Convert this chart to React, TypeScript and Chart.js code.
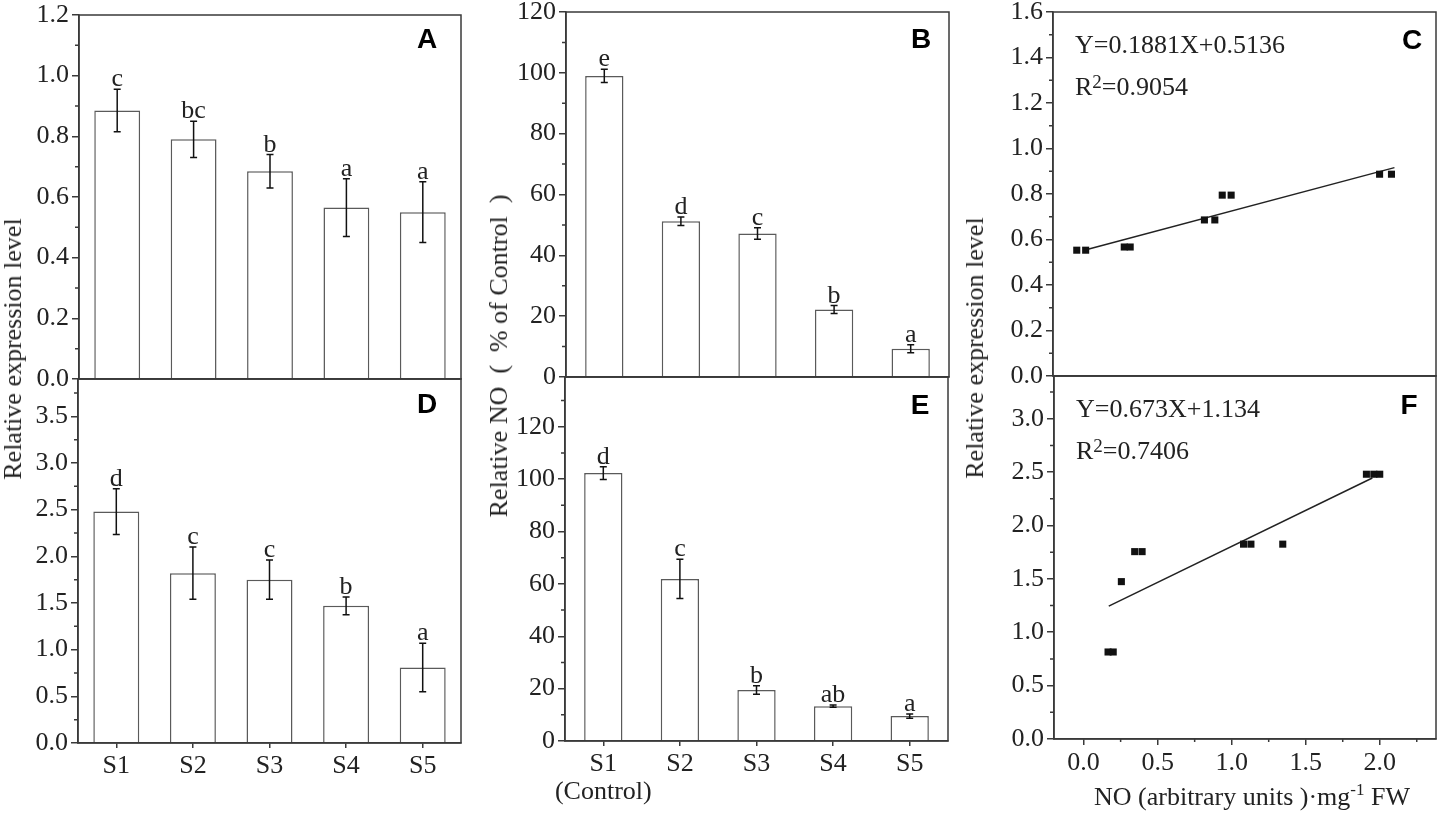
import React, { useEffect, useRef } from 'react';
import { Chart, registerables } from 'chart.js';

Chart.register(...registerables);

// ---- values ----
const categories = ['S1', 'S2', 'S3', 'S4', 'S5'];
const controlNote = '(Control)';

// A: relative expression level (top left)
const exprA = [0.885, 0.79, 0.685, 0.565, 0.55];
const exprAErr = [0.07, 0.06, 0.055, 0.095, 0.1];
const exprALetters = ['c', 'bc', 'b', 'a', 'a'];
const exprATicks = [0, 0.2, 0.4, 0.6, 0.8, 1.0, 1.2];

// B: relative NO, % of control (top middle)
const noB = [99.0, 51.2, 47.2, 22.2, 9.3];
const noBErr = [2.2, 1.4, 1.9, 1.3, 1.3];
const noBLetters = ['e', 'd', 'c', 'b', 'a'];
const noBTicks = [0, 20, 40, 60, 80, 100, 120];

// C: expression vs NO (top right)
const corrCX = [-0.04, 0.02, 0.28, 0.32, 0.82, 0.89, 0.94, 1.0, 2.0, 2.08];
const corrCY = [0.553, 0.553, 0.567, 0.567, 0.686, 0.686, 0.795, 0.795, 0.887, 0.887];
const fitCX = [0.01, 2.1];
const fitCY = [0.553, 0.916];
const fitCEquation = 'Y=0.1881X+0.5136';
const fitCR2 = '=0.9054';
const corrCTicks = [0, 0.2, 0.4, 0.6, 0.8, 1.0, 1.2, 1.4, 1.6];

// D: relative expression level (bottom left)
const exprD = [2.48, 1.82, 1.75, 1.47, 0.81];
const exprDErr = [0.245, 0.28, 0.21, 0.095, 0.26];
const exprDLetters = ['d', 'c', 'c', 'b', 'a'];
const exprDTicks = [0, 0.5, 1.0, 1.5, 2.0, 2.5, 3.0, 3.5];

// E: relative NO (bottom middle)
const noE = [102.3, 61.9, 19.5, 13.3, 9.5];
const noEErr = [2.4, 7.5, 1.6, 0.4, 0.8];
const noELetters = ['d', 'c', 'b', 'ab', 'a'];
const noETicks = [0, 20, 40, 60, 80, 100, 120];

// F: expression vs NO (bottom right)
const corrFX = [0.165, 0.2, 0.255, 0.345, 0.395, 1.08, 1.13, 1.345, 1.91, 1.96, 2.0];
const corrFY = [0.815, 0.815, 1.474, 1.755, 1.755, 1.825, 1.825, 1.825, 2.48, 2.48, 2.48];
const fitFX = [0.17, 1.95];
const fitFY = [1.245, 2.445];
const fitFEquation = 'Y=0.673X+1.134';
const fitFR2 = '=0.7406';
const corrFTicks = [0, 0.5, 1.0, 1.5, 2.0, 2.5, 3.0];
const noXTicks = [0, 0.5, 1.0, 1.5, 2.0];

// ---- look ----
const SERIF = '"Liberation Serif", "Times New Roman", serif';
const SANS = '"Liberation Sans", Arial, sans-serif';
const AXIS = '#3a3a3a';
const INK = '#222';
const FONT = { family: SERIF, size: 26 };
const YW = 80;
const PAD_T = 20;
const PAD_R = 10;
const PAD_B = 20;

const near = (a: number, b: number) => Math.abs(a - b) < 1e-9;
const hasTick = (list: number[], v?: number) => v !== undefined && list.some((m) => near(m, v));

// midpoints between major ticks (and one past the ends if still inside the range)
function minorOf(major: number[], min: number, max: number): number[] {
  const step = major[1] - major[0];
  const out: number[] = [];
  if (major[0] - step / 2 >= min) out.push(major[0] - step / 2);
  for (let i = 0; i < major.length - 1; i++) out.push((major[i] + major[i + 1]) / 2);
  const last = major[major.length - 1] + step / 2;
  if (last <= max) out.push(last);
  return out;
}

function linearAxis(min: number, max: number, major: number[], digits: number, vertical: boolean, show: boolean, size: number) {
  const all = [...major, ...minorOf(major, min, max)].sort((a, b) => a - b);
  return {
    type: 'linear',
    position: vertical ? 'left' : 'bottom',
    min,
    max,
    bounds: 'data',
    afterBuildTicks: (s: any) => {
      s.ticks = all.map((v) => ({ value: v }));
    },
    border: { display: true, color: AXIS, width: 1.5 },
    grid: {
      display: show,
      drawOnChartArea: false,
      tickLength: vertical ? 7 : 6,
      lineWidth: 1.5,
      color: (c: any) => (hasTick(major, c.tick?.value) ? AXIS : 'rgba(0,0,0,0)'),
    },
    ticks: {
      display: show,
      padding: 3,
      color: INK,
      font: FONT,
      maxRotation: 0,
      autoSkip: false,
      callback: (v: any) => (hasTick(major, Number(v)) ? Number(v).toFixed(digits) : ''),
    },
    afterFit: (s: any) => {
      if (vertical) s.width = size;
      else s.height = size;
    },
  };
}

function categoryAxis(labels: any[], show: boolean, size: number) {
  return {
    type: 'category',
    labels,
    offset: true,
    border: { display: true, color: AXIS, width: 1.5 },
    grid: { display: show, offset: false, drawOnChartArea: false, tickLength: 5, lineWidth: 1.5, color: AXIS },
    ticks: { display: show, padding: 5, color: INK, font: { ...FONT, lineHeight: 1.05 }, maxRotation: 0, autoSkip: false },
    afterFit: (s: any) => {
      s.height = size;
    },
  };
}

interface Decor {
  panel: string;
  letterAt: [number, number];
  values?: number[];
  errors?: number[];
  letters?: string[];
  yMajor: number[];
  xMajor?: number[];
  equation?: string;
  r2?: string;
}

// error bars, significance letters, frame, minor ticks, panel letter and fit text
function decorPlugin(d: Decor) {
  return {
    id: 'decor',
    afterDatasetsDraw(chart: any) {
      if (!d.values || !d.errors) return;
      const ctx = chart.ctx;
      const y = chart.scales.y;
      const meta = chart.getDatasetMeta(0);
      ctx.save();
      ctx.strokeStyle = '#111';
      ctx.lineWidth = 1.5;
      ctx.fillStyle = INK;
      ctx.font = `26px ${SERIF}`;
      ctx.textAlign = 'center';
      ctx.textBaseline = 'alphabetic';
      d.values.forEach((v, i) => {
        const x = meta.data[i].x;
        const top = y.getPixelForValue(v + d.errors![i]);
        const bot = y.getPixelForValue(v - d.errors![i]);
        ctx.beginPath();
        ctx.moveTo(x, top);
        ctx.lineTo(x, bot);
        ctx.moveTo(x - 3.5, top);
        ctx.lineTo(x + 3.5, top);
        ctx.moveTo(x - 3.5, bot);
        ctx.lineTo(x + 3.5, bot);
        ctx.stroke();
        if (d.letters) ctx.fillText(d.letters[i], x, top - 3);
      });
      ctx.restore();
    },
    afterDraw(chart: any) {
      const ctx = chart.ctx;
      const { left, top, right, bottom } = chart.chartArea;
      ctx.save();
      ctx.strokeStyle = AXIS;
      ctx.lineWidth = 1.5;
      ctx.strokeRect(left, top, right - left, bottom - top);

      const ys = chart.scales.y;
      ctx.beginPath();
      minorOf(d.yMajor, ys.min, ys.max).forEach((v) => {
        const py = ys.getPixelForValue(v);
        ctx.moveTo(left, py);
        ctx.lineTo(left - 4, py);
      });
      if (d.xMajor) {
        const xs = chart.scales.x;
        minorOf(d.xMajor, xs.min, xs.max).forEach((v) => {
          const px = xs.getPixelForValue(v);
          ctx.moveTo(px, bottom);
          ctx.lineTo(px, bottom + 3);
        });
      }
      ctx.stroke();

      ctx.fillStyle = '#000';
      ctx.font = `bold 28px ${SANS}`;
      ctx.textAlign = 'center';
      ctx.textBaseline = 'middle';
      ctx.fillText(d.panel, right + d.letterAt[0], top + d.letterAt[1]);

      if (d.equation && d.r2) {
        ctx.fillStyle = INK;
        ctx.textAlign = 'left';
        ctx.textBaseline = 'alphabetic';
        ctx.font = `26px ${SERIF}`;
        const x0 = left + 22;
        ctx.fillText(d.equation, x0, top + 41);
        const rY = top + 83;
        ctx.fillText('R', x0, rY);
        let x = x0 + ctx.measureText('R').width;
        ctx.font = `19px ${SERIF}`;
        ctx.fillText('2', x, rY - 7);
        x += ctx.measureText('2').width;
        ctx.font = `26px ${SERIF}`;
        ctx.fillText(d.r2, x, rY);
      }
      ctx.restore();
    },
  };
}

function barConfig(opts: {
  labels: any[];
  values: number[];
  errors: number[];
  letters: string[];
  max: number;
  major: number[];
  digits: number;
  showX: boolean;
  xh: number;
  barPct: number;
  panel: string;
  letterAt: [number, number];
}) {
  return {
    type: 'bar',
    data: {
      labels: opts.labels,
      datasets: [
        {
          data: opts.values,
          backgroundColor: '#fff',
          borderColor: '#5a5a5a',
          borderWidth: 1.5,
          barPercentage: opts.barPct,
          categoryPercentage: 1,
        },
      ],
    },
    options: {
      animation: false,
      responsive: false,
      events: [],
      layout: { padding: { left: 0, top: PAD_T, right: PAD_R, bottom: opts.xh > 0 ? 0 : PAD_B } },
      plugins: { legend: { display: false }, tooltip: { enabled: false } },
      scales: {
        x: categoryAxis(opts.labels, opts.showX, opts.xh),
        y: linearAxis(0, opts.max, opts.major, opts.digits, true, true, YW),
      },
    },
    plugins: [
      decorPlugin({
        panel: opts.panel,
        letterAt: opts.letterAt,
        values: opts.values,
        errors: opts.errors,
        letters: opts.letters,
        yMajor: opts.major,
      }),
    ],
  };
}

function scatterConfig(opts: {
  xs: number[];
  ys: number[];
  fitX: number[];
  fitY: number[];
  max: number;
  major: number[];
  showX: boolean;
  xh: number;
  panel: string;
  letterAt: [number, number];
  equation: string;
  r2: string;
}) {
  return {
    type: 'scatter',
    data: {
      datasets: [
        {
          data: opts.xs.map((x, i) => ({ x, y: opts.ys[i] })),
          pointStyle: 'rect',
          pointRadius: 5,
          backgroundColor: '#111',
          borderWidth: 0,
        },
        {
          data: opts.fitX.map((x, i) => ({ x, y: opts.fitY[i] })),
          showLine: true,
          borderColor: '#222',
          borderWidth: 1.5,
          pointRadius: 0,
          fill: false,
        },
      ],
    },
    options: {
      animation: false,
      responsive: false,
      events: [],
      layout: { padding: { left: 0, top: PAD_T, right: PAD_R, bottom: opts.xh > 0 ? 0 : PAD_B } },
      plugins: { legend: { display: false }, tooltip: { enabled: false } },
      scales: {
        x: linearAxis(-0.2, 2.38, noXTicks, 1, false, opts.showX, opts.xh),
        y: linearAxis(0, opts.max, opts.major, 1, true, true, YW),
      },
    },
    plugins: [
      decorPlugin({
        panel: opts.panel,
        letterAt: opts.letterAt,
        yMajor: opts.major,
        xMajor: opts.showX ? noXTicks : undefined,
        equation: opts.equation,
        r2: opts.r2,
      }),
    ],
  };
}

interface PanelProps {
  plot: [number, number, number, number];
  xh: number;
  make: () => any;
}

const Panel: React.FC<PanelProps> = ({ plot, xh, make }) => {
  const ref = useRef<HTMLCanvasElement>(null);
  const [l, t, r, b] = plot;
  const w = r - l + YW + PAD_R;
  const h = b - t + PAD_T + (xh > 0 ? xh : PAD_B);

  useEffect(() => {
    if (!ref.current) return;
    const chart = new Chart(ref.current, make());
    return () => chart.destroy();
  }, []);

  return (
    <canvas
      ref={ref}
      width={w}
      height={h}
      style={{ position: 'absolute', left: l - YW, top: t - PAD_T, width: w, height: h }}
    />
  );
};

const titleStyle = (cx: number, cy: number): React.CSSProperties => ({
  position: 'absolute',
  left: cx,
  top: cy,
  transform: 'translate(-50%, -50%) rotate(-90deg)',
  whiteSpace: 'nowrap',
  fontFamily: SERIF,
  fontSize: 26,
  lineHeight: 1,
  color: INK,
});

const App: React.FC = () => {
  return (
    <div
      style={{
        position: 'absolute',
        left: 0,
        top: 0,
        width: 1441,
        height: 814,
        overflow: 'hidden',
        background: '#fff',
      }}
    >
      <Panel
        plot={[79, 15, 461, 379]}
        xh={0}
        make={() =>
          barConfig({
            labels: categories,
            values: exprA,
            errors: exprAErr,
            letters: exprALetters,
            max: 1.2,
            major: exprATicks,
            digits: 1,
            showX: false,
            xh: 0,
            barPct: 0.6,
            panel: 'A',
            letterAt: [-34, 25],
          })
        }
      />
      <Panel
        plot={[78, 379, 461, 743]}
        xh={71}
        make={() =>
          barConfig({
            labels: categories,
            values: exprD,
            errors: exprDErr,
            letters: exprDLetters,
            max: 3.9,
            major: exprDTicks,
            digits: 1,
            showX: true,
            xh: 71,
            barPct: 0.6,
            panel: 'D',
            letterAt: [-34, 26],
          })
        }
      />
      <Panel
        plot={[566, 12, 949, 377]}
        xh={0}
        make={() =>
          barConfig({
            labels: categories,
            values: noB,
            errors: noBErr,
            letters: noBLetters,
            max: 120,
            major: noBTicks,
            digits: 0,
            showX: false,
            xh: 0,
            barPct: 0.5,
            panel: 'B',
            letterAt: [-28, 28],
          })
        }
      />
      <Panel
        plot={[565, 377, 948, 741]}
        xh={73}
        make={() =>
          barConfig({
            labels: categories.map((c, i) => (i === 0 ? [c, controlNote] : c)),
            values: noE,
            errors: noEErr,
            letters: noELetters,
            max: 139,
            major: noETicks,
            digits: 0,
            showX: true,
            xh: 73,
            barPct: 0.5,
            panel: 'E',
            letterAt: [-28, 29],
          })
        }
      />
      <Panel
        plot={[1053, 12, 1436, 376]}
        xh={0}
        make={() =>
          scatterConfig({
            xs: corrCX,
            ys: corrCY,
            fitX: fitCX,
            fitY: fitCY,
            max: 1.6,
            major: corrCTicks,
            showX: false,
            xh: 0,
            panel: 'C',
            letterAt: [-24, 29],
            equation: fitCEquation,
            r2: fitCR2,
          })
        }
      />
      <Panel
        plot={[1054, 376, 1436, 739]}
        xh={75}
        make={() =>
          scatterConfig({
            xs: corrFX,
            ys: corrFY,
            fitX: fitFX,
            fitY: fitFY,
            max: 3.4,
            major: corrFTicks,
            showX: true,
            xh: 75,
            panel: 'F',
            letterAt: [-27, 30],
            equation: fitFEquation,
            r2: fitFR2,
          })
        }
      />

      <div style={titleStyle(13, 349)}>Relative expression level</div>
      <div style={titleStyle(499, 356)}>Relative NO{'\u2002'}({'\u2002'}% of Control{'\u2002'})</div>
      <div style={titleStyle(975, 348)}>Relative expression level</div>
      <div
        style={{
          position: 'absolute',
          left: 1252,
          top: 797,
          transform: 'translate(-50%, -50%)',
          whiteSpace: 'nowrap',
          fontFamily: SERIF,
          fontSize: 26,
          lineHeight: 1,
          color: INK,
        }}
      >
        NO (arbitrary units )·mg
        <span style={{ fontSize: 17, position: 'relative', top: -10 }}>-1</span> FW
      </div>
    </div>
  );
};

export default App;
